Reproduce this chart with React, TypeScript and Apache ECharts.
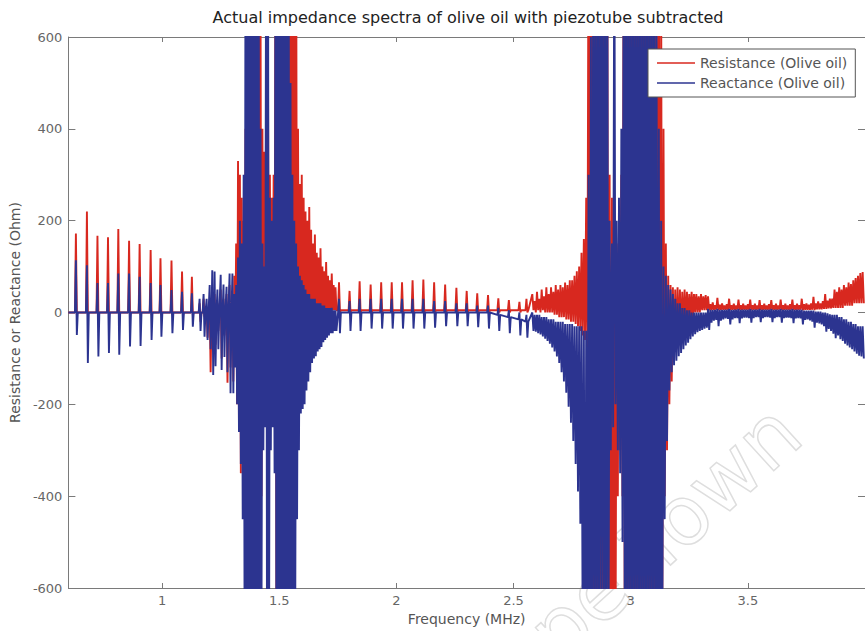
import React, { useEffect, useRef } from "react";
import * as echarts from "echarts";

// ---------- axes ----------
const xMin = 0.6;
const xMax = 4.0;
const yMin = -600;
const yMax = 600;
const yStep = 200;

const titleText = "Actual impedance spectra of olive oil with piezotube subtracted";
const xName = "Frequency (MHz)";
const yName = "Resistance or Reactance (Ohm)";
const seriesNames = ["Resistance (Olive oil)", "Reactance (Olive oil)"];

// ---------- isolated resonances: [freq MHz, high, low, baseline] ----------
const resCombA = [
  [0.632, 172, -5, 0], [0.679, 220, -5, 0], [0.724, 167, -5, 0], [0.769, 164, -5, 0],
  [0.813, 182, -5, 0], [0.859, 156, -5, 0], [0.904, 149, -5, 0], [0.951, 136, -5, 0],
  [0.993, 118, -5, 0], [1.04, 113, -5, 0], [1.085, 89, -5, 0], [1.127, 78, -5, 0],
  [1.16, 20, -20, 0], [1.177, 30, -10, 0], [1.19, 10, -55, 0], [1.203, 20, -130, 0],
  [1.214, 30, -60, 0], [1.224, 40, -70, 0], [1.236, 20, -40, 0], [1.25, 50, -100, 0],
  [1.262, 30, -50, 0], [1.275, 40, -153, 0], [1.288, 60, -120, 0],
];
const reaCombA = [
  [0.632, 114, -49, 0], [0.679, 103, -110, 0], [0.724, 64, -96, 0], [0.769, 64, -88, 0],
  [0.813, 85, -92, 0], [0.859, 85, -74, 0], [0.904, 78, -73, 0], [0.951, 64, -60, 0],
  [0.993, 60, -53, 0], [1.04, 49, -45, 0], [1.085, 45, -38, 0], [1.127, 42, -31, 0],
  [1.16, 30, -40, 0], [1.177, 40, -53, 0], [1.19, 30, -60, 0], [1.203, 60, -80, 0],
  [1.214, 92, -136, 0], [1.224, 89, -117, 0], [1.236, 50, -80, 0], [1.25, 82, -125, 0],
  [1.262, 61, -97, 0], [1.275, 56, -130, 0], [1.288, 85, -176, 0],
];

// ---------- first strong resonance, dense: [freq, high, low] (step 0.008) ----------
const resDenseB = [
  [1.3, 40, -150], [1.308, 80, -60], [1.316, 150, -200], [1.324, 330, -250], [1.332, 300, -350],
  [1.34, 250, -300], [1.348, 200, -330], [1.356, 400, -400], [1.364, 700, -500], [1.372, 900, -600],
  [1.38, 900, -900], [1.388, 800, -700], [1.396, 900, -900], [1.404, 900, -900], [1.412, 900, -800],
  [1.42, 700, -400], [1.428, 400, -200], [1.436, 350, -150], [1.444, 500, -300], [1.452, 500, -300],
  [1.46, 300, -200], [1.468, 250, -150], [1.476, 300, -200], [1.484, 900, -700], [1.492, 900, -900],
  [1.5, 900, -900], [1.508, 900, -900], [1.516, 900, -900], [1.524, 900, -900], [1.532, 900, -700],
  [1.54, 900, -500], [1.548, 900, -400], [1.556, 900, -350], [1.564, 900, -300], [1.572, 900, -250],
  [1.58, 400, -200], [1.588, 280, -150], [1.596, 300, -120], [1.604, 250, -100], [1.612, 220, -80],
  [1.62, 200, -60], [1.628, 230, -50], [1.636, 180, -40], [1.644, 150, -30], [1.652, 170, -20],
  [1.66, 130, -20], [1.668, 120, -10], [1.676, 140, 0], [1.684, 100, 0], [1.692, 90, 0],
  [1.7, 110, 5], [1.708, 80, 5], [1.716, 70, 5], [1.724, 85, 5], [1.732, 60, 5], [1.74, 55, 5],
];
const reaDenseB = [
  [1.3, 85, -176], [1.308, 40, -120], [1.316, 60, -200], [1.324, 120, -260], [1.332, 200, -330],
  [1.34, 150, -450], [1.348, 300, -700], [1.356, 900, -900], [1.364, 900, -900], [1.372, 900, -900],
  [1.38, 900, -900], [1.388, 900, -900], [1.396, 900, -900], [1.404, 900, -900], [1.412, 900, -900],
  [1.42, 400, -700], [1.428, 150, -300], [1.436, 100, -250], [1.444, 900, -900], [1.452, 900, -900],
  [1.46, 250, -300], [1.468, 200, -250], [1.476, 250, -350], [1.484, 900, -900], [1.492, 900, -900],
  [1.5, 900, -900], [1.508, 900, -900], [1.516, 900, -900], [1.524, 900, -900], [1.532, 900, -900],
  [1.54, 900, -900], [1.548, 500, -900], [1.556, 300, -900], [1.564, 200, -700], [1.572, 150, -450],
  [1.58, 100, -300], [1.588, 80, -220], [1.596, 70, -210], [1.604, 60, -200], [1.612, 50, -170],
  [1.62, 40, -150], [1.628, 40, -130], [1.636, 30, -110], [1.644, 30, -100], [1.652, 30, -95],
  [1.66, 20, -85], [1.668, 20, -80], [1.676, 20, -75], [1.684, 15, -65], [1.692, 15, -60],
  [1.7, 10, -55], [1.708, 10, -50], [1.716, 10, -45], [1.724, 10, -45], [1.732, 5, -40], [1.74, 5, -40],
];

// ---------- middle comb: [freq, high, low, baseline] ----------
const resCombC = [
  [1.755, 66, 0, 5], [1.8, 47, 0, 5], [1.843, 68, 0, 5], [1.89, 61, 0, 5], [1.935, 66, 0, 5],
  [1.98, 66, 0, 5], [2.024, 66, 0, 5], [2.069, 70, 0, 5], [2.115, 72, 0, 5], [2.161, 66, 0, 5],
  [2.208, 61, 0, 5], [2.256, 54, 0, 5], [2.3, 47, 0, 5], [2.345, 42, 0, 5], [2.391, 38, 0, 5],
  [2.435, 31, 0, 5], [2.48, 27, 0, 5], [2.525, 23, 0, 5], [2.555, 30, 0, 5],
];
const reaCombC = [
  [1.755, 30, -45, 0], [1.8, 25, -40, 0], [1.843, 30, -40, 0], [1.89, 30, -35, 0], [1.935, 30, -35, 0],
  [1.98, 30, -35, 0], [2.024, 30, -35, 0], [2.069, 30, -35, 0], [2.115, 30, -35, 0], [2.161, 25, -33, 0],
  [2.208, 25, -30, 0], [2.256, 20, -30, 0], [2.3, 20, -30, 0], [2.345, 15, -32, 0], [2.391, 15, -35, 0],
  [2.435, 10, -40, -5], [2.48, 5, -45, -10], [2.525, 0, -50, -15], [2.555, -5, -55, -20],
];

// ---------- second strong resonance, dense: [freq, high, low] (step 0.01) ----------
const resDenseD = [
  [2.58, 40, 5], [2.59, 25, 0], [2.6, 45, 5], [2.61, 30, 0], [2.62, 50, 5], [2.63, 35, 0],
  [2.64, 55, 0], [2.65, 40, 0], [2.66, 55, 0], [2.67, 45, -5], [2.68, 60, -5], [2.69, 50, -10],
  [2.7, 60, -10], [2.71, 55, -10], [2.72, 65, -15], [2.73, 60, -15], [2.74, 70, -20], [2.75, 70, -20],
  [2.76, 80, -25], [2.77, 90, -30], [2.78, 100, -40], [2.79, 130, -50], [2.8, 160, -60], [2.81, 250, -100],
  [2.82, 900, -500], [2.83, 900, -900], [2.84, 900, -900], [2.85, 900, -900], [2.86, 900, -900],
  [2.87, 900, -900], [2.88, 900, -900], [2.89, 900, -900], [2.9, 900, -900], [2.91, 300, -900],
  [2.92, 250, -900], [2.93, 200, -800], [2.94, 150, -400], [2.95, 200, -300], [2.96, 300, -400],
  [2.97, 900, -900], [2.98, 900, -900], [2.99, 900, -900], [3.0, 900, -900], [3.01, 900, -900],
  [3.02, 900, -900], [3.03, 900, -900], [3.04, 900, -900], [3.05, 900, -900], [3.06, 900, -900],
  [3.07, 900, -900], [3.08, 900, -900], [3.09, 900, -900], [3.1, 900, -900], [3.11, 900, -900],
  [3.12, 900, -800], [3.13, 700, -600], [3.14, 400, -400], [3.15, 150, -300], [3.16, 80, -200],
  [3.17, 60, -150], [3.18, 55, -100], [3.19, 50, -80], [3.2, 55, -60], [3.21, 50, -50],
  [3.22, 45, -40], [3.23, 50, -30], [3.24, 45, -20], [3.25, 40, -10], [3.26, 45, -10],
  [3.27, 40, 0], [3.28, 40, 0], [3.29, 35, 0], [3.3, 40, 5], [3.31, 35, 5], [3.32, 38, 5],
];
const reaDenseD = [
  [2.58, 0, -40], [2.59, -5, -42], [2.6, -5, -45], [2.61, -5, -48], [2.62, -10, -52], [2.63, -10, -57],
  [2.64, -10, -62], [2.65, -15, -68], [2.66, -15, -76], [2.67, -15, -85], [2.68, -20, -96], [2.69, -20, -110],
  [2.7, -20, -130], [2.71, -20, -150], [2.72, -25, -175], [2.73, -25, -205], [2.74, -25, -240], [2.75, -25, -280],
  [2.76, -30, -330], [2.77, -30, -390], [2.78, -30, -460], [2.79, -30, -700], [2.8, -40, -900], [2.81, -40, -900],
  [2.82, 300, -900], [2.83, 600, -900], [2.84, 900, -900], [2.85, 900, -900], [2.86, 900, -900],
  [2.87, 900, -700], [2.88, 900, -900], [2.89, 900, -900], [2.9, 900, -800], [2.91, 200, -300],
  [2.92, 150, -250], [2.93, 900, -200], [2.94, 200, -300], [2.95, 250, -350], [2.96, 400, -500],
  [2.97, 900, -900], [2.98, 900, -900], [2.99, 900, -900], [3.0, 900, -900], [3.01, 900, -900],
  [3.02, 900, -900], [3.03, 900, -900], [3.04, 900, -900], [3.05, 900, -900], [3.06, 900, -900],
  [3.07, 900, -900], [3.08, 900, -900], [3.09, 900, -900], [3.1, 900, -900], [3.11, 700, -900],
  [3.12, 400, -900], [3.13, 200, -700], [3.14, 100, -450], [3.15, 80, -280], [3.16, 60, -170],
  [3.17, 50, -130], [3.18, 40, -115], [3.19, 30, -105], [3.2, 20, -95], [3.21, 20, -88],
  [3.22, 10, -80], [3.23, 10, -72], [3.24, 5, -66], [3.25, 5, -58], [3.26, 0, -52],
  [3.27, 0, -47], [3.28, 0, -43], [3.29, 0, -40], [3.3, 0, -38], [3.31, 0, -35], [3.32, 0, -33],
];

// ---------- last stretch, dense sawtooth: [freq, high, low] (step 0.01) ----------
const resDenseE = [
  [3.33, 35, 5], [3.34, 18, 5], [3.35, 22, 6], [3.36, 16, 6], [3.37, 32, 5], [3.38, 17, 6],
  [3.39, 20, 6], [3.4, 15, 6], [3.41, 18, 6], [3.42, 30, 5], [3.43, 16, 6], [3.44, 19, 6],
  [3.45, 15, 6], [3.46, 28, 5], [3.47, 16, 6], [3.48, 19, 6], [3.49, 15, 6], [3.5, 18, 6],
  [3.51, 28, 5], [3.52, 16, 6], [3.53, 19, 6], [3.54, 15, 6], [3.55, 27, 5], [3.56, 16, 6],
  [3.57, 19, 6], [3.58, 15, 6], [3.59, 18, 6], [3.6, 27, 5], [3.61, 16, 6], [3.62, 19, 6],
  [3.63, 15, 6], [3.64, 28, 5], [3.65, 16, 6], [3.66, 19, 6], [3.67, 15, 6], [3.68, 18, 6],
  [3.69, 28, 5], [3.7, 16, 6], [3.71, 19, 6], [3.72, 16, 6], [3.73, 30, 5], [3.74, 18, 6],
  [3.75, 20, 6], [3.76, 17, 6], [3.77, 20, 6], [3.78, 34, 5], [3.79, 20, 7], [3.8, 24, 7],
  [3.81, 20, 7], [3.82, 25, 8], [3.83, 40, 8], [3.84, 26, 9], [3.85, 30, 9], [3.86, 30, 10],
  [3.87, 50, 10], [3.88, 45, 10], [3.89, 55, 10], [3.9, 50, 10], [3.91, 60, 15], [3.92, 55, 15],
  [3.93, 65, 15], [3.94, 62, 15], [3.95, 70, 20], [3.96, 75, 20], [3.97, 80, 20], [3.98, 86, 20],
  [3.99, 88, 20],
];
const reaDenseE = [
  [3.33, 8, -38], [3.34, 6, -22], [3.35, 6, -18], [3.36, 6, -16], [3.37, 8, -30], [3.38, 6, -18],
  [3.39, 6, -15], [3.4, 6, -13], [3.41, 6, -14], [3.42, 8, -26], [3.43, 6, -15], [3.44, 6, -12],
  [3.45, 6, -12], [3.46, 8, -23], [3.47, 6, -13], [3.48, 6, -11], [3.49, 6, -11], [3.5, 6, -12],
  [3.51, 8, -22], [3.52, 6, -12], [3.53, 6, -10], [3.54, 6, -10], [3.55, 8, -21], [3.56, 6, -12],
  [3.57, 6, -10], [3.58, 6, -10], [3.59, 6, -11], [3.6, 8, -21], [3.61, 6, -12], [3.62, 6, -10],
  [3.63, 6, -10], [3.64, 8, -22], [3.65, 6, -12], [3.66, 6, -11], [3.67, 6, -11], [3.68, 6, -12],
  [3.69, 8, -23], [3.7, 6, -13], [3.71, 6, -12], [3.72, 6, -13], [3.73, 6, -26], [3.74, 4, -16],
  [3.75, 4, -15], [3.76, 4, -17], [3.77, 4, -20], [3.78, 4, -33], [3.79, 2, -22], [3.8, 2, -24],
  [3.81, 2, -26], [3.82, 0, -30], [3.83, 0, -42], [3.84, -2, -36], [3.85, -4, -40], [3.86, -5, -46],
  [3.87, -5, -56], [3.88, -5, -50], [3.89, -10, -58], [3.9, -10, -62], [3.91, -15, -68], [3.92, -15, -72],
  [3.93, -20, -76], [3.94, -20, -80], [3.95, -25, -85], [3.96, -25, -90], [3.97, -30, -94], [3.98, -30, -96],
  [3.99, -30, -100],
];

// ---------- path builders ----------
function comb(rows: number[][], d = 0.004): number[][] {
  const out: number[][] = [];
  for (const [f, hi, lo, b] of rows) {
    out.push([f - d, b], [f, hi], [f + d, lo], [f + 2 * d, b]);
  }
  return out;
}
function dense(rows: number[][], step: number): number[][] {
  const out: number[][] = [];
  for (const [f, hi, lo] of rows) {
    out.push([f, hi], [f + step / 2, lo]);
  }
  return out;
}

const resistanceData = [
  [xMin, 0],
  ...comb(resCombA),
  ...dense(resDenseB, 0.008),
  ...comb(resCombC),
  ...dense(resDenseD, 0.01),
  ...dense(resDenseE, 0.01),
];
const reactanceData = [
  [xMin, 0],
  ...comb(reaCombA),
  ...dense(reaDenseB, 0.008),
  ...comb(reaCombC),
  ...dense(reaDenseD, 0.01),
  ...dense(reaDenseE, 0.01),
];

const RED = "#d8281f";
const BLUE = "#2c3490";
const FONT = "'DejaVu Sans', sans-serif";
const AXIS_COLOR = "#7a7a7a";

export default function App() {
  const ref = useRef<HTMLDivElement>(null);

  useEffect(() => {
    if (!ref.current) return;
    const chart = echarts.init(ref.current, null, { renderer: "svg" });
    const axisCommon = {
      axisLine: { show: true, onZero: false, lineStyle: { color: AXIS_COLOR, width: 1 } },
      splitLine: { show: false },
    };
    chart.setOption({
      animation: false,
      backgroundColor: "#ffffff",
      grid: { left: 68, top: 37, width: 801.5, height: 551, containLabel: false },
      xAxis: [
        {
          ...axisCommon,
          type: "value",
          min: xMin,
          max: xMax,
          splitNumber: 7,
          axisTick: { inside: true, length: 5, lineStyle: { color: AXIS_COLOR } },
          axisLabel: {
            showMinLabel: false,
            showMaxLabel: false,
            color: "#666",
            fontSize: 13,
            fontFamily: FONT,
            margin: 6,
          },
          name: xName,
          nameLocation: "middle",
          nameGap: 22,
          nameTextStyle: { color: "#555", fontSize: 14, fontFamily: FONT },
        },
        {
          ...axisCommon,
          type: "value",
          position: "top",
          min: xMin,
          max: xMax,
          splitNumber: 7,
          axisTick: { inside: true, length: 5, lineStyle: { color: AXIS_COLOR } },
          axisLabel: { show: false },
        },
      ],
      yAxis: [
        {
          ...axisCommon,
          type: "value",
          min: yMin,
          max: yMax,
          interval: yStep,
          axisTick: { inside: true, length: 7, lineStyle: { color: AXIS_COLOR } },
          axisLabel: { color: "#666", fontSize: 13, fontFamily: FONT, margin: 6 },
          name: yName,
          nameLocation: "middle",
          nameGap: 44,
          nameTextStyle: { color: "#555", fontSize: 14, fontFamily: FONT },
        },
        {
          ...axisCommon,
          type: "value",
          position: "right",
          min: yMin,
          max: yMax,
          interval: yStep,
          axisTick: { inside: true, length: 7, lineStyle: { color: AXIS_COLOR } },
          axisLabel: { show: false },
        },
      ],
      legend: {
        data: seriesNames,
        orient: "vertical",
        left: 648,
        top: 49,
        backgroundColor: "#ffffff",
        borderColor: "#555",
        borderWidth: 1,
        borderRadius: 0,
        padding: [7, 8, 7, 9],
        itemGap: 6,
        itemWidth: 38,
        itemHeight: 1.5,
        icon: "rect",
        textStyle: { color: "#555", fontSize: 14, fontFamily: FONT },
      },
      graphic: [
        {
          type: "text",
          x: 468,
          y: 17,
          style: {
            text: titleText,
            fill: "#222",
            fontSize: 16,
            fontFamily: FONT,
            textAlign: "center",
            textVerticalAlign: "middle",
          },
        },
        {
          type: "text",
          x: 815,
          y: 450,
          rotation: 0.74,
          z: -10,
          silent: true,
          style: {
            text: "Cape Town",
            fill: "rgba(0,0,0,0)",
            stroke: "#dedede",
            lineWidth: 1.5,
            fontSize: 82,
            fontFamily: FONT,
            textAlign: "right",
            textVerticalAlign: "bottom",
          },
        },
      ],
      series: [
        {
          name: seriesNames[0],
          type: "line",
          data: resistanceData,
          showSymbol: false,
          symbol: "none",
          clip: true,
          color: RED,
          lineStyle: { color: RED, width: 1.9 },
          z: 2,
        },
        {
          name: seriesNames[1],
          type: "line",
          data: reactanceData,
          showSymbol: false,
          symbol: "none",
          clip: true,
          color: BLUE,
          lineStyle: { color: BLUE, width: 1.9 },
          z: 3,
        },
      ],
    });
    return () => chart.dispose();
  }, []);

  return (
    <div
      ref={ref}
      style={{ position: "fixed", left: 0, top: 0, width: 865, height: 631, background: "#fff" }}
    />
  );
}
